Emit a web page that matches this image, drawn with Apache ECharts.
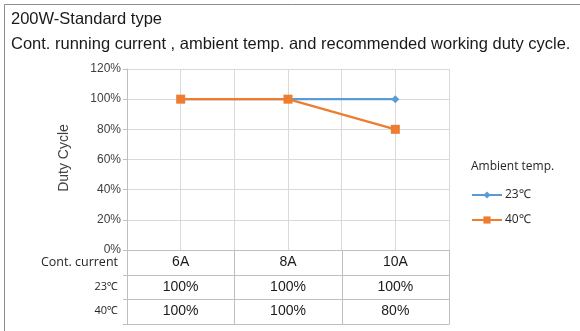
<!DOCTYPE html>
<html>
<head>
<meta charset="utf-8">
<script src="https://cdn.jsdelivr.net/npm/echarts@6/dist/echarts.min.js"></script>
<style>
  html, body { margin: 0; padding: 0; background: #fff; }
  #chart { width: 580px; height: 331px; }
</style>
</head>
<body>
<div id="chart"></div>
<script>
// Duty cycle vs. continuous running current, per ambient temperature
const categories = ['6A', '8A', '10A'];
const seriesNames = ['23℃', '40℃'];
const duty23 = [100, 100, 100];
const duty40 = [100, 100, 80];
const tableHeader = 'Cont. current';
const titleLine1 = '200W-Standard type';
const titleLine2 = 'Cont. running current , ambient temp. and recommended working duty cycle.';
const legendTitle = 'Ambient temp.';
const yAxisName = 'Duty Cycle';

const BLUE = '#5B9BD5';
const ORANGE = '#ED7D31';
const GRID_COLOR = '#d9d9d9';
const TABLE_COLOR = '#bfbfbf';
const SANS = 'Liberation Sans, Arial, sans-serif';
const UI = 'Open Sans, Noto Sans, sans-serif';

const chart = echarts.init(document.getElementById('chart'), null, { renderer: 'canvas' });

const option = {
  animation: false,
  backgroundColor: '#fff',
  grid: { left: 127, right: 131, top: 69, bottom: 81, containLabel: false },
  xAxis: [
    {
      type: 'category',
      data: categories,
      boundaryGap: true,
      axisLine: { show: true, lineStyle: { color: TABLE_COLOR, width: 1 } },
      axisTick: { show: false },
      axisLabel: { show: false },
      splitLine: { show: true, interval: 0, lineStyle: { color: GRID_COLOR, width: 1 } }
    },
    {
      // half-band lines through each category centre
      type: 'category',
      data: categories.flatMap(c => [c + '-a', c + '-b']),
      boundaryGap: true,
      position: 'bottom',
      axisLine: { show: false },
      axisTick: { show: false },
      axisLabel: { show: false },
      splitLine: { show: true, interval: 0, lineStyle: { color: GRID_COLOR, width: 1 } }
    }
  ],
  yAxis: {
    type: 'value',
    min: 0,
    max: 120,
    interval: 20,
    axisLine: { show: true, lineStyle: { color: TABLE_COLOR, width: 1 } },
    axisTick: { show: true, length: 4, lineStyle: { color: TABLE_COLOR } },
    axisLabel: {
      formatter: '{value}%',
      color: '#404040',
      fontFamily: SANS,
      fontSize: 12,
      margin: 6
    },
    splitLine: { show: true, lineStyle: { color: GRID_COLOR, width: 1 } }
  },
  legend: {
    orient: 'vertical',
    left: 471,
    top: 189,
    padding: 0,
    itemGap: 13,
    itemWidth: 30,
    itemHeight: 9,
    textStyle: { fontFamily: UI, fontSize: 12, color: '#262626', padding: [0, 0, 0, -2] },
    data: seriesNames
  },
  series: [
    {
      name: seriesNames[0],
      type: 'line',
      xAxisIndex: 0,
      data: duty23,
      symbol: 'diamond',
      symbolSize: 8,
      lineStyle: { color: BLUE, width: 2.25 },
      itemStyle: { color: BLUE },
      z: 2
    },
    {
      name: seriesNames[1],
      type: 'line',
      xAxisIndex: 0,
      data: duty40,
      symbol: 'rect',
      symbolSize: 9,
      lineStyle: { color: ORANGE, width: 2.25 },
      itemStyle: { color: ORANGE },
      z: 3
    }
  ]
};

chart.setOption(option);

// Data table under the plot, laid out from the axis scales
const centers = categories.map(c => chart.convertToPixel({ xAxisIndex: 0 }, c));
const band = centers.length > 1 ? centers[1] - centers[0] : 100;
const leftX = centers[0] - band / 2;
const rightX = centers[centers.length - 1] + band / 2;
const baseY = chart.convertToPixel({ yAxisIndex: 0 }, 0);
const rowH = 24.5;
const rows = [
  { head: tableHeader, headSize: 12.5, cells: categories },
  { head: seriesNames[0], headSize: 11, cells: duty23.map(v => v + '%') },
  { head: seriesNames[1], headSize: 11, cells: duty40.map(v => v + '%') }
];

const elements = [];
// outer frame
elements.push({
  type: 'rect',
  shape: { x: 4.5, y: 4.5, width: 700, height: 500 },
  style: { fill: null, stroke: '#8c8c8c', lineWidth: 1 },
  silent: true
});
elements.push({
  type: 'text', left: 11, top: 11,
  style: { text: titleLine1, font: '16.5px ' + SANS, fill: '#1a1a1a' }
});
elements.push({
  type: 'text', left: 11, top: 36,
  style: { text: titleLine2, font: '16.5px ' + SANS, fill: '#1a1a1a' }
});
elements.push({
  type: 'text',
  x: 64, y: 158,
  rotation: Math.PI / 2,
  style: { text: yAxisName, font: '14px ' + SANS, fill: '#404040', align: 'center', verticalAlign: 'middle' }
});
elements.push({
  type: 'text', left: 471, top: 161,
  style: { text: legendTitle, font: '12px ' + UI, fill: '#262626' }
});

// table horizontal rules
for (let r = 1; r <= rows.length; r++) {
  const y = Math.round(baseY + r * rowH) + 0.5;
  elements.push({
    type: 'line', silent: true,
    shape: { x1: leftX - 4, y1: y, x2: rightX, y2: y },
    style: { stroke: TABLE_COLOR, lineWidth: 1 }
  });
}
// first rule extends the axis line out to the tick
elements.push({
  type: 'line', silent: true,
  shape: { x1: leftX - 4, y1: Math.round(baseY) + 0.5, x2: leftX, y2: Math.round(baseY) + 0.5 },
  style: { stroke: TABLE_COLOR, lineWidth: 1 }
});
// table vertical rules
const tableBottom = Math.round(baseY + rows.length * rowH) + 0.5;
for (let c = 0; c <= categories.length; c++) {
  const x = Math.round(leftX + c * band) + 0.5;
  elements.push({
    type: 'line', silent: true,
    shape: { x1: x, y1: baseY, x2: x, y2: tableBottom },
    style: { stroke: TABLE_COLOR, lineWidth: 1 }
  });
}
// table text
rows.forEach((row, r) => {
  const cy = baseY + r * rowH + rowH / 2;
  elements.push({
    type: 'text', x: leftX - 9, y: cy,
    style: { text: row.head, font: row.headSize + 'px ' + UI, fill: '#262626', align: 'right', verticalAlign: 'middle' }
  });
  row.cells.forEach((t, c) => {
    elements.push({
      type: 'text', x: centers[c], y: cy,
      style: { text: t, font: '14px ' + SANS, fill: '#1a1a1a', align: 'center', verticalAlign: 'middle' }
    });
  });
});

chart.setOption({ graphic: { elements } });
</script>
</body>
</html>
